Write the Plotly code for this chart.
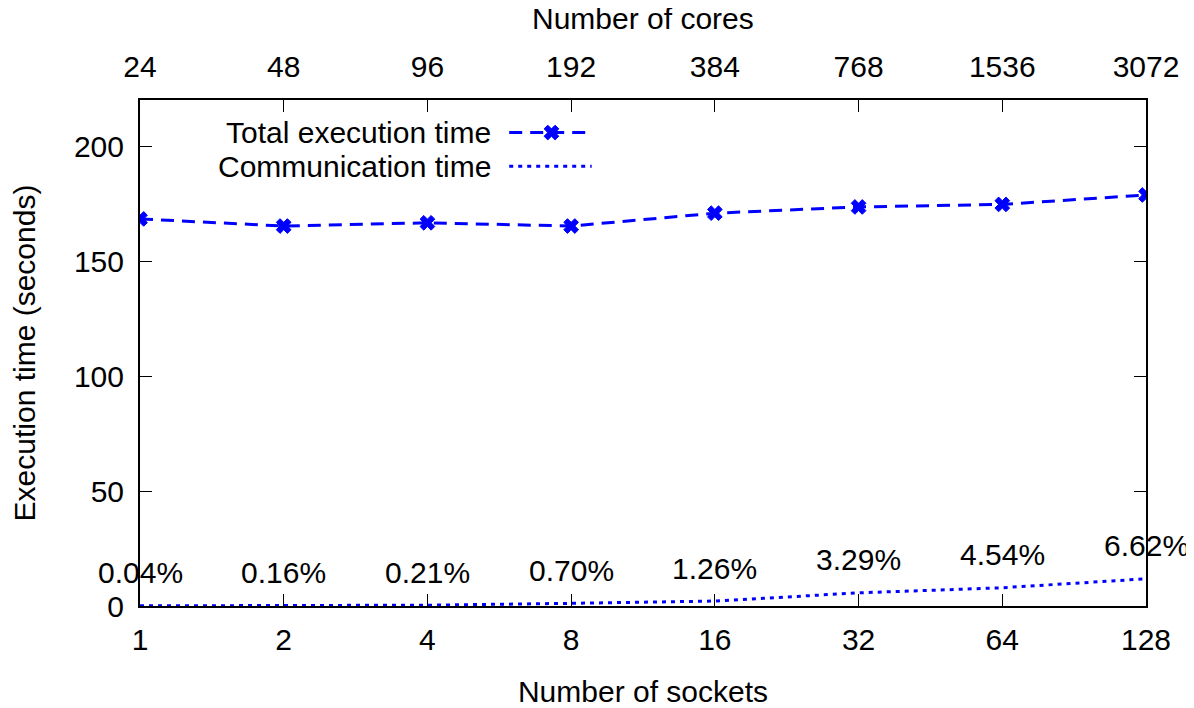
import math
import plotly.graph_objects as go

# ---- data ----
sockets = [1, 2, 4, 8, 16, 32, 64, 128]
cores = ["24", "48", "96", "192", "384", "768", "1536", "3072"]
total_time = [168.3, 165.2, 166.6, 165.2, 170.8, 173.5, 174.6, 178.7]
comm_time = [0.07, 0.26, 0.35, 1.16, 2.15, 5.71, 7.93, 11.83]
comm_pct = ["0.04%", "0.16%", "0.21%", "0.70%", "1.26%", "3.29%", "4.54%", "6.62%"]
y_ticks = [0, 50, 100, 150, 200]

FONT = "Liberation Sans, Arial, sans-serif"
FS = 30
BLUE = "#0000ff"
MARK = dict(symbol="x", size=13, color=BLUE, line=dict(color=BLUE, width=1))

fig = go.Figure()

fig.add_trace(go.Scatter(
    x=sockets, y=total_time, mode="lines+markers", name="Total execution time",
    line=dict(color=BLUE, width=3, dash="13px,8px"),
    marker=MARK, showlegend=False, xaxis="x", yaxis="y",
))
fig.add_trace(go.Scatter(
    x=sockets, y=comm_time, mode="lines", name="Communication time",
    line=dict(color=BLUE, width=3, dash="4px,5px"),
    showlegend=False, xaxis="x2", yaxis="y",
))

# percentage labels
for s, c, p in zip(sockets, comm_time, comm_pct):
    fig.add_annotation(x=math.log10(s), y=c, xref="x", yref="y", text=p,
                       showarrow=False, yshift=33, xanchor="center", yanchor="middle",
                       font=dict(family=FONT, size=FS, color="black"))

# ---- custom gnuplot-style legend (text left, sample right) ----
leg_text_x = 0.3505
leg_x0, leg_x1, leg_mx = 0.367, 0.449, 0.409
rows_y = [0.9357, 0.869]
for ry, txt in zip(rows_y, ["Total execution time", "Communication time"]):
    fig.add_annotation(x=leg_text_x, y=ry, xref="paper", yref="paper",
                       text=txt, showarrow=False, xanchor="right", yanchor="middle",
                       font=dict(family=FONT, size=FS, color="black"))
fig.add_shape(type="line", xref="paper", yref="paper", x0=leg_x0, x1=leg_x1,
              y0=rows_y[0], y1=rows_y[0], line=dict(color=BLUE, width=3, dash="13px,8px"))
fig.add_shape(type="line", xref="paper", yref="paper", x0=leg_x0, x1=leg_x1,
              y0=rows_y[1], y1=rows_y[1], line=dict(color=BLUE, width=3, dash="4px,5px"))
fig.add_trace(go.Scatter(
    x=[leg_mx], y=[rows_y[0]], mode="markers", showlegend=False, hoverinfo="skip",
    marker=MARK, xaxis="x3", yaxis="y3",
))

# top axis title
fig.add_annotation(x=0.5, y=1.162, xref="paper", yref="paper", text="Number of cores",
                   showarrow=False, xanchor="center", yanchor="middle",
                   font=dict(family=FONT, size=FS, color="black"))

axis_font = dict(family=FONT, size=FS, color="black")
log_range = [0, math.log10(128)]

fig.update_layout(
    template="none",
    width=1186, height=700, autosize=False,
    paper_bgcolor="white", plot_bgcolor="white",
    margin=dict(l=132, r=48, t=92, b=102, autoexpand=False),
    font=dict(family=FONT, size=FS, color="black"),
    xaxis=dict(
        type="log", range=log_range, tickvals=sockets, ticktext=[str(s) for s in sockets],
        ticks="inside", ticklen=12, tickwidth=1, tickcolor="black",
        showline=True, linecolor="black", linewidth=2, mirror=False,
        showgrid=False, zeroline=False, tickfont=axis_font, automargin=False,
        title=dict(text="Number of sockets", font=axis_font, standoff=26),
        ticklabelstandoff=6,
    ),
    xaxis2=dict(
        type="log", range=log_range, tickvals=sockets, ticktext=cores,
        overlaying="x", side="top", anchor="y",
        ticks="inside", ticklen=12, tickwidth=1, tickcolor="black",
        showline=True, linecolor="black", linewidth=2,
        showgrid=False, zeroline=False, tickfont=axis_font, automargin=False,
        ticklabelstandoff=9,
    ),
    yaxis=dict(
        range=[0, 220], tickvals=y_ticks,
        ticks="inside", ticklen=12, tickwidth=1, tickcolor="black",
        showline=True, linecolor="black", linewidth=2, mirror="ticks",
        showgrid=False, zeroline=False, tickfont=axis_font, automargin=False,
        title=dict(text="Execution time (seconds)", font=axis_font, standoff=30),
        ticklabelstandoff=8,
    ),
    xaxis3=dict(range=[0, 1], visible=False, overlaying="x", anchor="y3"),
    yaxis3=dict(range=[0, 1], visible=False, overlaying="y", anchor="x3"),
)

fig.write_html("out.html")
